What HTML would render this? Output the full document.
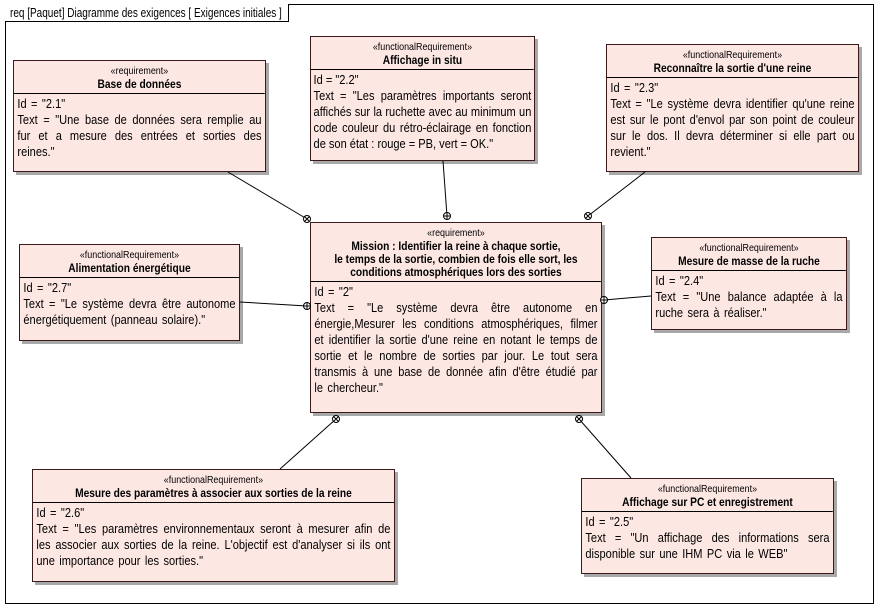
<!DOCTYPE html>
<html><head><meta charset="utf-8"><style>
*{margin:0;padding:0;box-sizing:border-box}
body{width:876px;height:605px;background:#fff;position:relative;overflow:hidden;font-family:"Liberation Sans",Arial,sans-serif;color:#000}
.frame{position:absolute;left:5px;top:4px;width:869px;height:600px;border:1px solid #000}
.tab{position:absolute;left:5px;top:4px;height:18px;width:284px;border-right:1px solid #000;border-bottom:1px solid #000;background:#fff}
.tab span{position:absolute;left:5px;top:1px;font-size:12.5px;line-height:16px;white-space:nowrap;transform:scaleX(.8);transform-origin:0 0}
.box{position:absolute;background:#fde7e3;border:1px solid #3a1a1a;box-shadow:3px 3px 0 #a8a8a8;overflow:hidden}
.in{width:117.6%;transform:scaleX(.85);transform-origin:0 0}
.hd{text-align:center;border-bottom:1px solid #000;padding:3px 2px 2px}
.st{font-size:10.5px;line-height:14px}
.nm{font-size:12px;font-weight:bold;line-height:13px}
.bd{font-size:13px;line-height:16px;padding:2px 4px;text-align:justify;word-spacing:1.6px}
svg{position:absolute;left:0;top:0;z-index:5}
</style></head><body>
<div class="frame"></div>
<div class="tab"><span>req [Paquet] Diagramme des exigences [ Exigences initiales ]</span></div>

<div class="box" style="left:13px;top:60px;width:253px;height:112px"><div class="in"><div class="hd"><div class="st">«requirement»</div><div class="nm">Base de données</div></div><div class="bd">Id = "2.1"<br>Text = "Une base de données sera remplie au fur et a mesure des entrées et sorties des reines."</div></div></div>

<div class="box" style="left:310px;top:36px;width:225px;height:125px"><div class="in"><div class="hd"><div class="st">«functionalRequirement»</div><div class="nm">Affichage in situ</div></div><div class="bd" style="word-spacing:0;padding:2px 3px">Id = "2.2"<br>Text = "Les paramètres importants seront affichés sur la ruchette avec au minimum un code couleur du rétro-éclairage en fonction de son état : rouge = PB, vert = OK."</div></div></div>

<div class="box" style="left:606px;top:44px;width:253px;height:128px"><div class="in"><div class="hd"><div class="st">«functionalRequirement»</div><div class="nm">Reconnaître la sortie d'une reine</div></div><div class="bd">Id = "2.3"<br>Text = "Le système devra identifier qu'une reine est sur le pont d'envol par son point de couleur sur le dos. Il devra déterminer si elle part ou revient."</div></div></div>

<div class="box" style="left:310px;top:222px;width:292px;height:191px"><div class="in"><div class="hd"><div class="st">«requirement»</div><div class="nm">Mission : Identifier la reine à chaque sortie,<br>le temps de la sortie, combien de fois elle sort, les<br>conditions atmosphériques lors des sorties</div></div><div class="bd">Id = "2"<br>Text = "Le système devra être autonome en énergie,Mesurer les conditions atmosphériques, filmer et identifier la sortie d'une reine en notant le temps de sortie et le nombre de sorties par jour. Le tout sera transmis à une base de donnée afin d'être étudié par le chercheur."</div></div></div>

<div class="box" style="left:19px;top:244px;width:221px;height:97px"><div class="in"><div class="hd"><div class="st">«functionalRequirement»</div><div class="nm">Alimentation énergétique</div></div><div class="bd">Id = "2.7"<br>Text = "Le système devra être autonome énergétiquement (panneau solaire)."</div></div></div>

<div class="box" style="left:651px;top:237px;width:196px;height:93px"><div class="in"><div class="hd"><div class="st">«functionalRequirement»</div><div class="nm">Mesure de masse de la ruche</div></div><div class="bd">Id = "2.4"<br>Text = "Une balance adaptée à la ruche sera à réaliser."</div></div></div>

<div class="box" style="left:32px;top:469px;width:363px;height:113px"><div class="in"><div class="hd"><div class="st">«functionalRequirement»</div><div class="nm">Mesure des paramètres à associer aux sorties de la reine</div></div><div class="bd">Id = "2.6"<br>Text = "Les paramètres environnementaux seront à mesurer afin de les associer aux sorties de la reine. L'objectif est d'analyser si ils ont une importance pour les sorties."</div></div></div>

<div class="box" style="left:581px;top:478px;width:253px;height:96px"><div class="in"><div class="hd"><div class="st">«functionalRequirement»</div><div class="nm">Affichage sur PC et enregistrement</div></div><div class="bd">Id = "2.5"<br>Text = "Un affichage des informations sera disponible sur une IHM PC via le WEB"</div></div></div>

<svg width="876" height="605">
<g stroke="#000" stroke-width="1" fill="none">
<line x1="228" y1="172" x2="307" y2="219"/>
<line x1="443" y1="161" x2="447" y2="216"/>
<line x1="645" y1="172" x2="588" y2="216"/>
<line x1="240" y1="302" x2="307" y2="306"/>
<line x1="651" y1="296" x2="604" y2="300"/>
<line x1="280" y1="469" x2="336" y2="419"/>
<line x1="631" y1="478" x2="579" y2="419"/>
</g>
<g stroke="#000" fill="#fff">
<circle cx="307" cy="219" r="3.5"/><circle cx="447" cy="216" r="3.5"/><circle cx="588" cy="216" r="3.5"/>
<circle cx="307" cy="306" r="3.5"/><circle cx="604" cy="300" r="3.5"/><circle cx="336" cy="419" r="3.5"/><circle cx="579" cy="419" r="3.5"/>
</g>
<g stroke="#000">
<path d="M304.5 216.5l5 5M309.5 216.5l-5 5"/><path d="M443.5 216h7M447 212.5v7"/><path d="M585.5 213.5l5 5M590.5 213.5l-5 5"/>
<path d="M303.5 306h7M307 302.5v7"/><path d="M600.5 300h7M604 296.5v7"/><path d="M333.5 416.5l5 5M338.5 416.5l-5 5"/><path d="M576.5 416.5l5 5M581.5 416.5l-5 5"/>
</g>
</svg>
</body></html>
